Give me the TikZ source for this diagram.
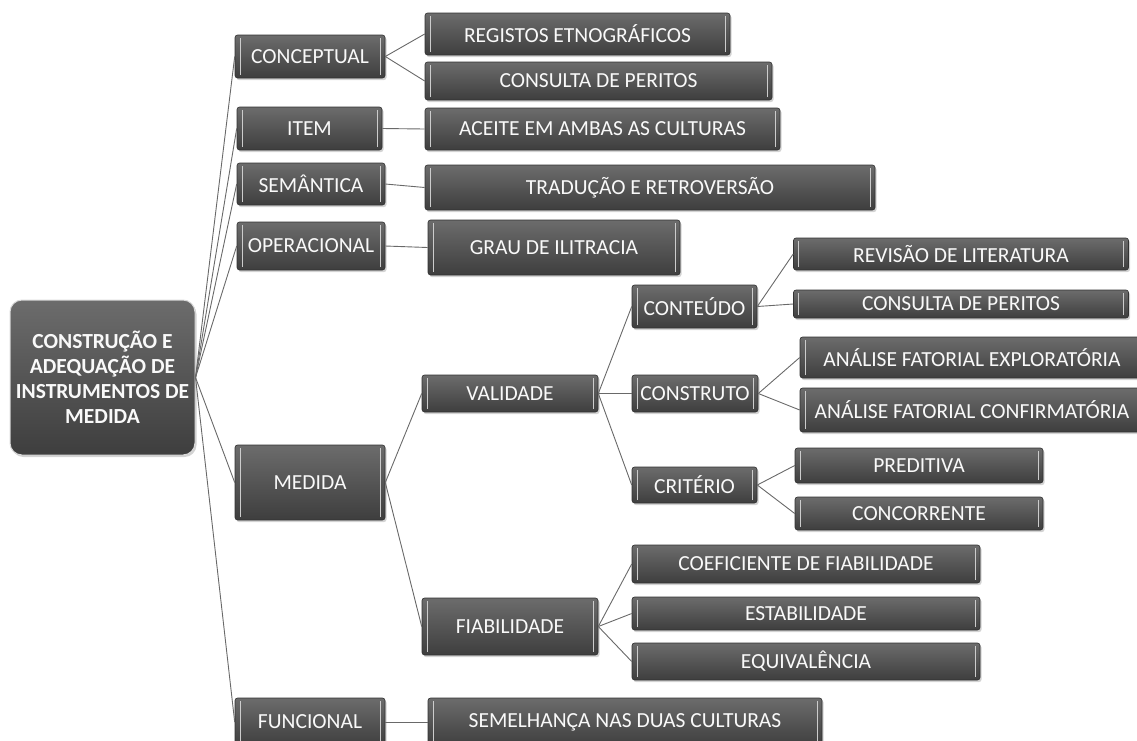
\documentclass[tikz,border=0pt]{standalone}
\usepackage{fontspec}
\setmainfont{Carlito}
\usetikzlibrary{shadows}
\definecolor{boxtop}{RGB}{108,108,108}
\definecolor{boxbot}{RGB}{62,62,62}
\definecolor{boxline}{RGB}{50,50,50}
\definecolor{linkgray}{RGB}{105,105,105}
\begin{document}
\begin{tikzpicture}[
    x=1pt, y=-1pt,
    box/.style={draw=boxline, line width=0.6pt, rounded corners=2.5pt,
      top color=boxtop, bottom color=boxbot, text=white!95!gray,
      font=\fontsize{21.5}{24}\selectfont, inner sep=0pt, align=center,
      drop shadow={shadow xshift=1.5pt, shadow yshift=-2pt, opacity=0.35},
      path picture={
        \draw[white!60!gray, line width=0.7pt]
          ([xshift=5pt,yshift=-3pt]path picture bounding box.north west) --
          ([xshift=5pt,yshift=3pt]path picture bounding box.south west);
        \draw[white!60!gray, line width=0.7pt]
          ([xshift=-5pt,yshift=-3pt]path picture bounding box.north east) --
          ([xshift=-5pt,yshift=3pt]path picture bounding box.south east);}},
    rootbox/.style={draw=white!70!gray, line width=1pt, rounded corners=12pt,
      top color=boxtop, bottom color=boxbot, text=white!95!gray,
      font=\fontsize{21.5}{25}\bfseries\selectfont, inner sep=0pt, align=center,
      drop shadow={shadow xshift=1.5pt, shadow yshift=-2pt, opacity=0.35}},
    link/.style={draw=linkgray, line width=0.9pt}
    ]
  \useasboundingbox (0,0) rectangle (1137,740);
  \node [rootbox, minimum width=185pt, minimum height=155pt] (root) at (102.5,377.5)
    {CONSTRUÇÃO E\\ADEQUAÇÃO DE\\INSTRUMENTOS DE\\MEDIDA};

  \node [box, minimum width=150pt, minimum height=43pt] (conceptual) at (310,56.5) {CONCEPTUAL};
  \node [box, minimum width=305pt, minimum height=42pt] (registos) at (577.5,34) {REGISTOS ETNOGRÁFICOS};
  \node [box, minimum width=347pt, minimum height=38pt] (peritosA) at (598.5,81) {CONSULTA DE PERITOS};
  \node [box, minimum width=145pt, minimum height=43pt] (item) at (309.5,128.5) {ITEM};
  \node [box, minimum width=355pt, minimum height=42pt] (aceite) at (602.5,129) {ACEITE EM AMBAS AS CULTURAS};
  \node [box, minimum width=148pt, minimum height=42pt] (semantica) at (311,184) {SEMÂNTICA};
  \node [box, minimum width=450pt, minimum height=45pt] (traducao) at (650,187.5) {TRADUÇÃO E RETROVERSÃO};
  \node [box, minimum width=148pt, minimum height=48pt] (operacional) at (311,246) {OPERACIONAL};
  \node [box, minimum width=252pt, minimum height=55pt] (grau) at (554,247.5) {GRAU DE ILITRACIA};

  \node [box, minimum width=150pt, minimum height=75pt] (medida) at (310,482.5) {MEDIDA};
  \node [box, minimum width=176pt, minimum height=37pt] (validade) at (510,393.5) {VALIDADE};
  \node [box, minimum width=125pt, minimum height=43pt] (conteudo) at (694.5,306.5) {CONTEÚDO};
  \node [box, minimum width=335pt, minimum height=32pt] (revisao) at (961,254) {REVISÃO DE LITERATURA};
  \node [box, minimum width=335pt, minimum height=28pt] (peritosB) at (961,304) {CONSULTA DE PERITOS};
  \node [box, minimum width=126pt, minimum height=37pt] (construto) at (695,393.5) {CONSTRUTO};
  \node [box, minimum width=344pt, minimum height=41pt] (exploratoria) at (972,357.5) {ANÁLISE FATORIAL EXPLORATÓRIA};
  \node [box, minimum width=344pt, minimum height=44pt] (confirmatoria) at (972,410) {ANÁLISE FATORIAL CONFIRMATÓRIA};
  \node [box, minimum width=125pt, minimum height=36pt] (criterio) at (694.5,485) {CRITÉRIO};
  \node [box, minimum width=248pt, minimum height=35pt] (preditiva) at (919,465.5) {PREDITIVA};
  \node [box, minimum width=248pt, minimum height=33pt] (concorrente) at (919,513.5) {CONCORRENTE};
  \node [box, minimum width=176pt, minimum height=57pt] (fiabilidade) at (510,626.5) {FIABILIDADE};
  \node [box, minimum width=348pt, minimum height=38pt] (coeficiente) at (806,564) {COEFICIENTE DE FIABILIDADE};
  \node [box, minimum width=348pt, minimum height=33pt] (estabilidade) at (806,613.5) {ESTABILIDADE};
  \node [box, minimum width=348pt, minimum height=37pt] (equivalencia) at (806,661.5) {EQUIVALÊNCIA};

  \node [box, minimum width=150pt, minimum height=48pt] (funcional) at (310,722) {FUNCIONAL};
  \node [box, minimum width=394pt, minimum height=48pt] (semelhanca) at (625,722) {SEMELHANÇA NAS DUAS CULTURAS};

  \foreach \a/\b in {root/conceptual, root/item, root/semantica, root/operacional,
      root/medida, root/funcional,
      conceptual/registos, conceptual/peritosA, item/aceite, semantica/traducao,
      operacional/grau, funcional/semelhanca,
      medida/validade, medida/fiabilidade,
      validade/conteudo, validade/construto, validade/criterio,
      conteudo/revisao, conteudo/peritosB,
      construto/exploratoria, construto/confirmatoria,
      criterio/preditiva, criterio/concorrente,
      fiabilidade/coeficiente, fiabilidade/estabilidade, fiabilidade/equivalencia}
    \draw [link] (\a.east) -- (\b.west);
\end{tikzpicture}
\end{document}
